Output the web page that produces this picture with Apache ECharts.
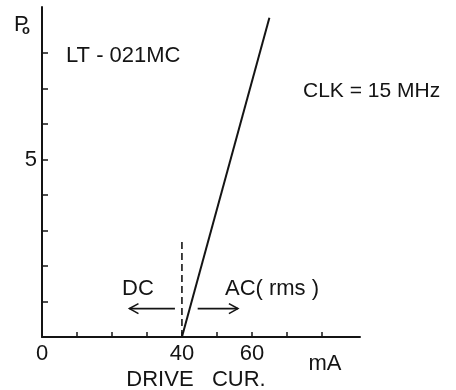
<!DOCTYPE html>
<html>
<head>
<meta charset="utf-8">
<script src="https://cdn.jsdelivr.net/npm/echarts@6/dist/echarts.min.js"></script>
<style>
html,body{margin:0;padding:0;background:#fff;}
#c{width:456px;height:390px;}
</style>
</head>
<body>
<div id="c"></div>
<script>
// Data
var curX = [40, 65];          // drive current (mA)
var curY = [0, 9];            // Po
var dashX = [40, 40];
var dashY = [0, 2.7];
var dcArrow = [38, 25, 0.8];  // from x, to x, y
var acArrow = [44.5, 56, 0.8];
var xTickValues = [10, 20, 30, 40, 50, 60, 70, 80];
var xLabelValues = [0, 40, 60];
var yTickValues = [1, 2, 3, 4, 5, 6, 7, 8];
var yLabelValues = [5];

var FONT = 'Liberation Sans, Arial, sans-serif';
var INK = '#141414';

function pairs(xs, ys) { return xs.map(function (x, i) { return [x, ys[i]]; }); }

var chart = echarts.init(document.getElementById('c'), null, {renderer: 'canvas'});

function arrowRender(params, api) {
  var p1 = api.coord([api.value(0), api.value(2)]);
  var p2 = api.coord([api.value(1), api.value(2)]);
  var dir = p2[0] > p1[0] ? 1 : -1;
  var h = 9, w = 5;
  return {
    type: 'group',
    children: [
      {type: 'line', shape: {x1: p1[0], y1: p1[1], x2: p2[0], y2: p2[1]},
        style: {stroke: INK, lineWidth: 1.6}},
      {type: 'polyline', shape: {points: [[p2[0] - dir * h, p2[1] - w], [p2[0], p2[1]], [p2[0] - dir * h, p2[1] + w]]},
        style: {stroke: INK, lineWidth: 1.6, fill: null}}
    ]
  };
}

var option = {
  backgroundColor: '#fff',
  animation: false,
  grid: {left: 42, top: 7, right: 96, bottom: 53, containLabel: false},
  xAxis: {
    type: 'value', min: 0, max: 90.9,
    axisLine: {show: true, lineStyle: {color: INK, width: 2}},
    axisTick: {show: true, inside: true, length: 5, customValues: xTickValues, lineStyle: {color: INK, width: 1.5}},
    axisLabel: {show: true, customValues: xLabelValues, margin: 6, fontSize: 22, fontFamily: FONT, color: INK},
    splitLine: {show: false}
  },
  yAxis: {
    type: 'value', min: 0, max: 9.3,
    axisLine: {show: true, lineStyle: {color: INK, width: 2}},
    axisTick: {show: true, inside: true, length: 6, customValues: yTickValues, lineStyle: {color: INK, width: 1.5}},
    axisLabel: {show: true, customValues: yLabelValues, margin: 5, fontSize: 22, fontFamily: FONT, color: INK},
    splitLine: {show: false}
  },
  series: [
    {type: 'line', data: pairs(curX, curY), showSymbol: false, symbol: 'none',
      lineStyle: {color: INK, width: 2}},
    {type: 'line', data: pairs(dashX, dashY), showSymbol: false, symbol: 'none',
      lineStyle: {color: INK, width: 1.6, type: [7, 4]}},
    {type: 'custom', renderItem: arrowRender, data: [dcArrow, acArrow]}
  ],
  graphic: [
    {type: 'text', style: {text: 'P', x: 14, y: 25, textVerticalAlign: 'middle', fontSize: 22, fontFamily: FONT, fill: INK}},
    {type: 'text', style: {text: 'o', x: 22, y: 30, textVerticalAlign: 'middle', fontSize: 13, fontWeight: 'bold', fontFamily: FONT, fill: INK}},
    {type: 'text', style: {text: 'LT - 021MC', x: 66, y: 56, textVerticalAlign: 'middle', fontSize: 22, fontFamily: FONT, fill: INK}},
    {type: 'text', style: {text: 'CLK = 15 MHz', x: 303, y: 91, textVerticalAlign: 'middle', fontSize: 21, fontFamily: FONT, fill: INK}},
    {type: 'text', style: {text: 'DC', x: 138, y: 289, textAlign: 'center', textVerticalAlign: 'middle', fontSize: 22, fontFamily: FONT, fill: INK}},
    {type: 'text', style: {text: 'AC( rms )', x: 272, y: 289, textAlign: 'center', textVerticalAlign: 'middle', fontSize: 22, fontFamily: FONT, fill: INK}},
    {type: 'text', style: {text: 'mA', x: 325, y: 364, textAlign: 'center', textVerticalAlign: 'middle', fontSize: 22, fontFamily: FONT, fill: INK}},
    {type: 'text', style: {text: 'DRIVE   CUR.', x: 196, y: 380, textAlign: 'center', textVerticalAlign: 'middle', fontSize: 22, fontFamily: FONT, fill: INK}}
  ]
};
chart.setOption(option);
</script>
</body>
</html>
